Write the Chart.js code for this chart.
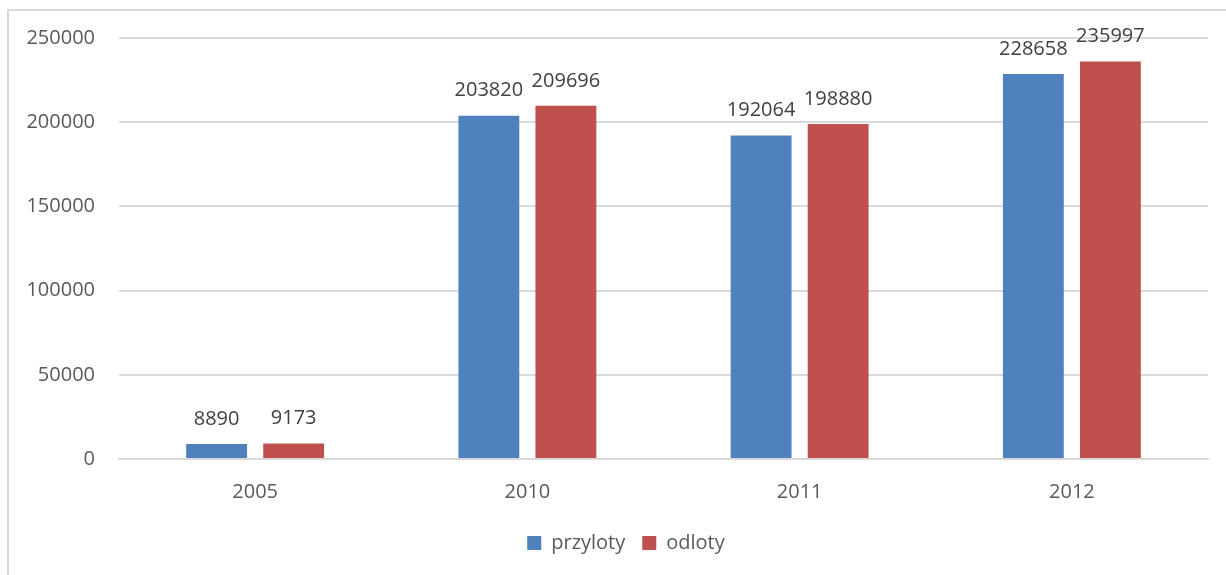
<!DOCTYPE html>
<html>
<head>
<meta charset="utf-8">
<script src="https://cdn.jsdelivr.net/npm/chart.js@4"></script>
<style>
  body { margin: 0; background: #fff; overflow: hidden; }
  .frame {
    position: absolute; left: 7px; top: 9px;
    width: 1240px; height: 600px;
    border: 2px solid #d9d9d9;
  }
  .wrap { position: absolute; left: 0; top: 0; width: 1226px; height: 575px; }
</style>
</head>
<body>
<div class="frame"></div>
<div class="wrap"><canvas id="chart"></canvas></div>
<script>
// --- DATA --- //
const years = ['2005', '2010', '2011', '2012']
const arrivals = [8890, 203820, 192064, 228658]
const departures = [9173, 209696, 198880, 235997]

const blue = '#4f81bd'
const red = '#c0504d'
const fontFamily = "'Open Sans', sans-serif"

// --- value labels above each bar --- //
const barValues = {
  id: 'barValues',
  afterDatasetsDraw: chart => {
    const ctx = chart.ctx
    ctx.save()
    ctx.font = `20px ${fontFamily}`
    ctx.fillStyle = '#404040'
    ctx.textAlign = 'center'
    ctx.textBaseline = 'middle'
    chart.data.datasets.forEach((ds, i) => {
      chart.getDatasetMeta(i).data.forEach((bar, j) => {
        ctx.fillText(String(ds.data[j]), bar.x, bar.y - 25)
      })
    })
    ctx.restore()
  }
}

// legend sits centred under the plot area rather than the whole canvas
const legendShift = {
  id: 'legendShift',
  afterLayout: chart => {
    chart.legend.left += 22
    chart.legend.right += 22
  }
}

const config = {
  type: 'bar',
  data: {
    labels: years,
    datasets: [
      {
        label: 'przyloty',
        data: arrivals,
        backgroundColor: blue,
        barPercentage: 0.79,
        categoryPercentage: 0.566
      },
      {
        label: 'odloty',
        data: departures,
        backgroundColor: red,
        barPercentage: 0.79,
        categoryPercentage: 0.566
      }
    ]
  },
  options: {
    responsive: true,
    maintainAspectRatio: false,
    animation: false,
    layout: {
      padding: { top: 38, right: 18, bottom: 12, left: 0 }
    },
    scales: {
      x: {
        grid: { display: false },
        border: { display: true, color: '#d9d9d9', width: 2 },
        ticks: {
          color: '#595959',
          font: { family: fontFamily, size: 20 },
          padding: 13
        },
        afterFit: scale => { scale.height = 57 }
      },
      y: {
        min: 0,
        max: 250000,
        ticks: {
          stepSize: 50000,
          color: '#595959',
          font: { family: fontFamily, size: 20 },
          padding: 24,
          callback: v => String(v)
        },
        grid: { color: '#d9d9d9', lineWidth: 2, drawTicks: false },
        border: { display: false },
        afterFit: scale => { scale.width = 119 }
      }
    },
    plugins: {
      legend: {
        position: 'bottom',
        labels: {
          boxWidth: 14,
          boxHeight: 14,
          padding: 17,
          color: '#595959',
          font: { family: fontFamily, size: 20 }
        }
      },
      tooltip: { enabled: false }
    }
  },
  plugins: [barValues, legendShift]
}

const chart = new Chart(document.getElementById('chart'), config)
</script>
</body>
</html>
